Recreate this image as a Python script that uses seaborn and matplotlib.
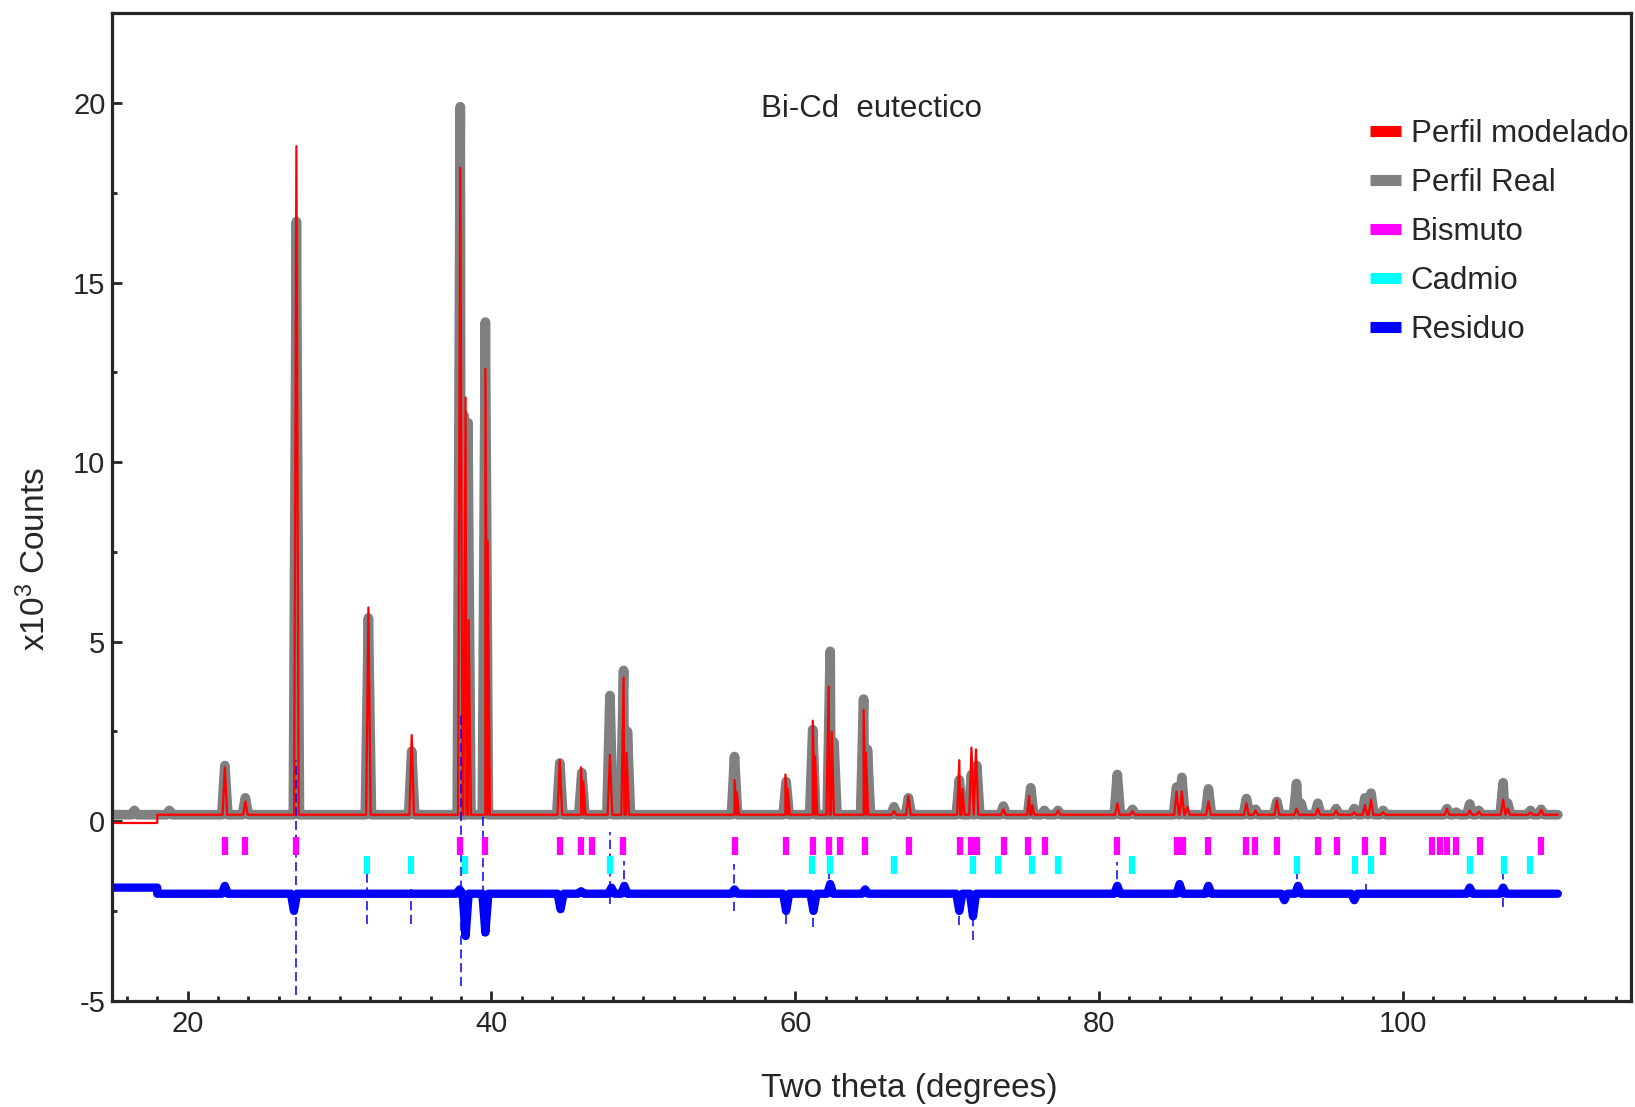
import numpy as np
import matplotlib
matplotlib.use("Agg")
import matplotlib.pyplot as plt
import seaborn as sns
from matplotlib.lines import Line2D
from matplotlib.ticker import MultipleLocator

# Observed profile (Perfil Real): peak positions (2theta) and heights (x10^3 counts)
real_pos = [16.5, 18.8, 22.45, 23.8, 27.16, 31.9, 34.75, 37.95, 38.2, 38.45, 39.6,
            44.5, 45.95, 47.8, 48.7, 48.95, 56.0, 59.4, 61.15, 62.3, 62.55, 64.5, 64.75,
            66.5, 67.45, 70.8, 71.6, 71.95, 73.7, 75.5, 76.4, 77.3, 81.2, 82.2, 85.1,
            85.45, 87.2, 89.7, 90.3, 91.7, 93.0, 93.3, 94.4, 95.6, 96.8, 97.5, 97.9,
            98.7, 102.9, 103.5, 104.4, 105.0, 106.6, 106.9, 108.4, 109.1]
real_h = [0.3, 0.3, 1.55, 0.65, 16.7, 5.66, 1.95, 19.9, 11.3, 11.1, 13.9,
          1.62, 1.35, 3.5, 4.2, 2.5, 1.8, 1.1, 2.55, 4.73, 2.2, 3.4, 2.0,
          0.4, 0.65, 1.15, 1.3, 1.55, 0.42, 0.93, 0.3, 0.3, 1.3, 0.33, 0.95,
          1.22, 0.9, 0.63, 0.33, 0.55, 1.05, 0.5, 0.5, 0.35, 0.35, 0.65, 0.78,
          0.3, 0.35, 0.25, 0.48, 0.3, 1.07, 0.5, 0.3, 0.33]

# Modelled profile (Perfil modelado)
model_pos = [22.45, 23.8, 27.16, 31.9, 34.75, 37.95, 38.3, 38.5, 39.6, 39.75, 44.5,
             45.9, 46.05, 47.8, 48.7, 48.9, 56.0, 56.15, 59.35, 59.5, 61.15, 61.3,
             62.2, 62.4, 64.5, 64.65, 66.5, 67.45, 70.8, 71.0, 71.6, 71.9, 73.7, 75.4,
             75.6, 77.3, 81.2, 82.2, 85.1, 85.45, 85.8, 87.2, 89.7, 90.3, 91.7, 93.0,
             94.4, 95.6, 96.8, 97.5, 97.9, 98.7, 102.9, 104.4, 105.0, 106.6, 106.9,
             108.4, 109.1]
model_h = [1.5, 0.55, 18.8, 5.95, 2.4, 18.2, 11.8, 5.6, 12.6, 7.8, 1.7,
           1.5, 1.1, 1.85, 4.0, 1.9, 1.15, 0.8, 1.3, 0.9, 2.8, 1.8,
           3.75, 2.5, 3.1, 1.9, 0.28, 0.7, 1.7, 0.9, 2.05, 2.0, 0.33, 0.7,
           0.45, 0.3, 0.5, 0.28, 0.83, 0.83, 0.4, 0.55, 0.5, 0.3, 0.58, 0.35,
           0.35, 0.3, 0.25, 0.45, 0.6, 0.25, 0.35, 0.3, 0.27, 0.6, 0.35,
           0.25, 0.32]

# Bragg reflections
bi_pos = [22.45, 23.78, 27.13, 37.91, 39.56, 44.50, 45.89, 46.65, 48.65, 56.04,
          59.36, 61.17, 62.21, 62.95, 64.56, 67.46, 70.82, 71.58, 71.94, 73.74,
          75.33, 76.41, 81.17, 85.14, 85.50, 87.15, 89.68, 90.28, 91.71, 94.41,
          95.64, 97.52, 98.66, 101.94, 102.46, 102.91, 103.51, 105.05, 109.12]
cd_pos = [31.79, 34.70, 38.26, 47.78, 61.13, 62.26, 66.51, 71.69, 73.33, 75.60,
          77.28, 82.17, 93.00, 96.82, 97.90, 104.41, 106.64, 108.37]

# Residual (Residuo): band features and sharp excursions
resid_pos = [22.45, 27.0, 37.9, 38.3, 39.6, 44.55, 45.9, 47.9, 48.75, 56.0, 59.4,
             61.2, 62.3, 64.6, 70.8, 71.7, 81.2, 85.3, 87.2, 92.2, 93.1, 96.8,
             104.4, 106.6]
resid_val = [-1.8, -2.5, -1.9, -3.2, -3.1, -2.45, -1.95, -1.85, -1.8, -1.9, -2.5,
             -2.5, -1.75, -1.9, -2.5, -2.65, -1.8, -1.75, -1.8, -2.2, -1.8, -2.2,
             -1.85, -1.85]
spike_pos = [27.15, 31.8, 34.7, 38.0, 39.45, 47.8, 48.75, 56.0, 59.4, 61.2, 62.2,
             70.8, 71.7, 81.2, 93.0, 97.6, 106.6]
spike_lo = [-4.85, -2.85, -2.85, -4.6, -3.2, -2.3, -2.0, -2.5, -2.85, -2.95, -2.0,
            -2.9, -3.3, -2.0, -2.0, -2.0, -2.4]
spike_hi = [1.7, -1.4, -1.9, 3.0, 0.2, -0.3, -1.1, -1.2, -2.0, -2.0, -0.85,
            -2.0, -2.0, -1.15, -1.25, -1.6, -1.45]

x_start, x_end, step_x = 15.0, 110.2, 18.0


def profile(pos, h, base, hw, lo=None):
    pts = [(x_end, base)] + [q for p, v in zip(pos, h)
                             for q in ((p - hw, base), (p, v), (p + hw, base))]
    if lo is None:
        pts.append((x_start, base))
        pts.sort()
    else:
        pts.append((step_x, base))
        pts = [(x_start, lo), (step_x, lo)] + sorted(pts)
    arr = np.array(pts)
    return arr[:, 0], arr[:, 1]


sns.set_style("ticks")
plt.rcParams["font.family"] = ["Liberation Sans", "DejaVu Sans"]
plt.rcParams["axes.unicode_minus"] = False
plt.rcParams["mathtext.fontset"] = "custom"
plt.rcParams["mathtext.rm"] = "Liberation Sans"
plt.rcParams["mathtext.it"] = "Liberation Sans"

fig = plt.figure(figsize=(16.35, 11.07), dpi=100)
ax = fig.add_axes([0.0683, 0.096, 0.9291, 0.892])

gx, gy = profile(real_pos, real_h, 0.18, 0.2)
sns.lineplot(x=gx, y=gy, ax=ax, color="#808080", lw=7, sort=False, estimator=None,
             solid_capstyle="round", solid_joinstyle="round")
mx, my = profile(model_pos, model_h, 0.18, 0.15, lo=-0.05)
sns.lineplot(x=mx, y=my, ax=ax, color="#FF0000", lw=1.6, sort=False, estimator=None)

rx, ry = profile(resid_pos, resid_val, -2.02, 0.2, lo=-1.85)
sns.lineplot(x=rx, y=ry, ax=ax, color="#0000FF", lw=6, sort=False, estimator=None)
ax.vlines(spike_pos, spike_lo, spike_hi, color="#0000FF", lw=1.1, linestyles=(0, (6, 3)))

ax.vlines(bi_pos, -0.93, -0.43, color="#FF00FF", lw=4.5)
ax.vlines(cd_pos, -1.46, -0.96, color="#00FFFF", lw=4.5)

ax.set_xlim(15, 115)
ax.set_ylim(-5, 22.5)
ax.set_xticks([20, 40, 60, 80, 100])
ax.xaxis.set_minor_locator(MultipleLocator(2))
ax.yaxis.set_major_locator(MultipleLocator(5))
ax.yaxis.set_minor_locator(MultipleLocator(2.5))
ax.tick_params(which="both", direction="in", width=2, labelsize=21)
ax.tick_params(axis="y", pad=4.5)
ax.tick_params(axis="x", pad=7)
ax.tick_params(which="major", length=7)
ax.tick_params(which="minor", length=3.5)
for s in ax.spines.values():
    s.set_linewidth(2.3)
    s.set_visible(True)

ax.set_xlabel("Two theta (degrees)", fontsize=24, va="center")
ax.xaxis.set_label_coords(0.525, -0.0884)
ax.set_ylabel(r"x10$^{3}$ Counts", fontsize=24)
ax.yaxis.set_label_coords(-0.039, 0.447)

ax.text(65, 19.84, "Bi-Cd  eutectico", fontsize=22.5, ha="center", va="center")

handles = [Line2D([], [], color=c, lw=8, solid_capstyle="butt")
           for c in ["#FF0000", "#808080", "#FF00FF", "#00FFFF", "#0000FF"]]
labels = ["Perfil modelado", "Perfil Real", "Bismuto", "Cadmio", "Residuo"]
fig.legend(handles, labels, loc="upper left", bbox_to_anchor=(1370 / 1635, 1 - 119 / 1107),
           frameon=False, fontsize=22.5, handlelength=1.0, handletextpad=0.3,
           labelspacing=0.61, borderpad=0, borderaxespad=0)

fig.savefig("out.png", dpi=100)
